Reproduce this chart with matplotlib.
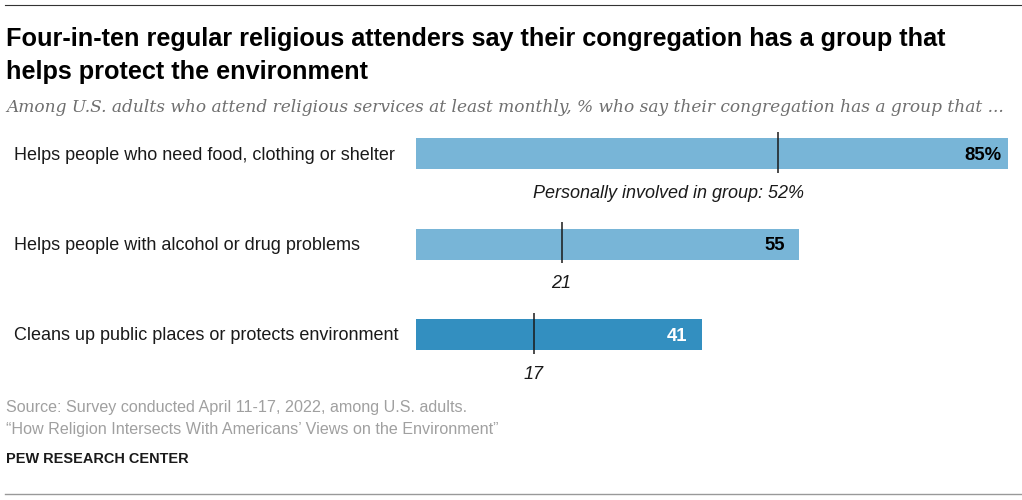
import matplotlib
matplotlib.use("Agg")
import matplotlib.pyplot as plt

title = "Four-in-ten regular religious attenders say their congregation has a group that\nhelps protect the environment"
subtitle = "Among U.S. adults who attend religious services at least monthly, % who say their congregation has a group that ..."
categories = ["Helps people who need food, clothing or shelter",
              "Helps people with alcohol or drug problems",
              "Cleans up public places or protects environment"]
has_group = [85, 55, 41]
involved = [52, 21, 17]
value_labels = ["85%", "55", "41"]
involved_labels = ["Personally involved in group: 52%", "21", "17"]
bar_colors = ["#78b5d7", "#78b5d7", "#338fc0"]
value_colors = ["black", "black", "white"]

W, H = 1022, 500
plt.rcParams['font.family'] = ['Liberation Sans']
fig = plt.figure(figsize=(W/100, H/100), dpi=100)

# axes in pixels: x=416 is zero, 6.965 px per point
ax = fig.add_axes([416/W, 0, (W-416)/W, 1])
ax.set_xlim(0, (W-416)/6.965)
# y: row i sits at 153.5 + 90.5*i px from the top
ax.set_ylim((H-153.5)/90.5, -153.5/90.5)
ax.axis("off")

ypos = list(range(len(categories)))
ax.barh(ypos, has_group, height=31/90.5, color=bar_colors)

def px(x, y, s, **kw):
    fig.text(x/W, 1-y/H, s, **kw)

for i in ypos:
    ax.vlines(involved[i], i-22/90.5, i+19/90.5, color="#1a1a1a", lw=1.1)
    ax.annotate(value_labels[i], (has_group[i], i), xytext=(-7 if i == 0 else -14, 0),
                textcoords="offset pixels", ha="right", va="center_baseline",
                fontsize=13.3, fontweight="bold", color=value_colors[i])
    ax.annotate(involved_labels[i], (involved[i], i), xytext=(-110 if i == 0 else -1, -38),
                textcoords="offset pixels", ha="center", va="center_baseline",
                fontsize=13, style="italic", color="#1a1a1a")
    px(14, 153.5+90.5*i+1.5, categories[i], fontsize=12.95, color="#1a1a1a", va="center")

# title and subtitle
px(6, 39, title.split("\n")[0], fontsize=18.2, fontweight="bold", color="black", va="center")
px(6, 71.5, title.split("\n")[1], fontsize=18.2, fontweight="bold", color="black", va="center")
px(6, 108, subtitle, fontsize=12.25, style="italic", color="#6f6f6f", va="center", fontfamily="DejaVu Serif")

# source lines
px(6, 407.5, "Source: Survey conducted April 11-17, 2022, among U.S. adults.", fontsize=11.6, color="#a0a0a0", va="center")
px(6, 429.5, "\u201cHow Religion Intersects With Americans\u2019 Views on the Environment\u201d", fontsize=11.6, color="#a0a0a0", va="center")
px(6, 459, "PEW RESEARCH CENTER", fontsize=10.45, fontweight="bold", color="#1a1a1a", va="center")

# rules at top and bottom
fig.add_artist(plt.Line2D([5/W, 1], [1-4.5/H, 1-4.5/H], color="#333333", lw=0.8))
fig.add_artist(plt.Line2D([5/W, 1], [1-493.5/H, 1-493.5/H], color="#999999", lw=1))

fig.savefig("out.png", dpi=100)
